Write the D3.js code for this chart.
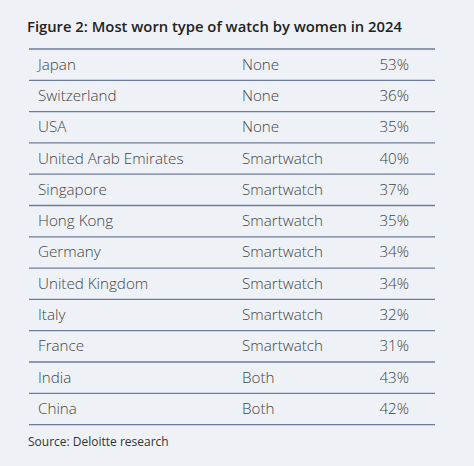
<!DOCTYPE html><html><head><meta charset="utf-8">
<script src="https://cdn.jsdelivr.net/npm/d3@7"></script>
<style>body{margin:0;background:#eef2f6}</style></head><body>
<script>
const countries=["Japan","Switzerland","USA","United Arab Emirates","Singapore","Hong Kong","Germany","United Kingdom","Italy","France","India","China"];
const types=["None","None","None","Smartwatch","Smartwatch","Smartwatch","Smartwatch","Smartwatch","Smartwatch","Smartwatch","Both","Both"];
const shares=[53,36,35,40,37,35,34,34,32,31,43,42];
const W=474,H=466;
const svg=d3.select("body").append("svg").attr("width",W).attr("height",H);
svg.append("rect").attr("width",W).attr("height",H).attr("fill","#eef2f6");
svg.append("text").attr("x",27).attr("y",32).attr("font-family","Open Sans").attr("font-weight",600).attr("font-size",14.8).attr("fill","#222").text("Figure 2: Most worn type of watch by women in 2024");
const y=d3.scaleBand().domain(d3.range(countries.length)).range([49,424.6]);
const g=svg.append("g").attr("font-family","Open Sans").attr("font-weight",300).attr("font-size",15.2).attr("fill","#444");
d3.range(countries.length+1).forEach(i=>{
  const yy=i<countries.length?y(i):y.range()[1];
  svg.append("line").attr("x1",29).attr("x2",435).attr("y1",yy).attr("y2",yy).attr("stroke","#6d7b9a").attr("stroke-width",1.3);
});
countries.forEach((c,i)=>{
  const cy=y(i)+y.bandwidth()/2+5;
  g.append("text").attr("x",38).attr("y",cy).text(c);
  g.append("text").attr("x",242).attr("y",cy).text(types[i]);
  g.append("text").attr("x",409).attr("y",cy).attr("text-anchor","end").text(shares[i]+"%");
});
svg.append("text").attr("x",28).attr("y",446).attr("font-family","Open Sans").attr("font-size",12).attr("fill","#333").text("Source: Deloitte research");
</script></body></html>
